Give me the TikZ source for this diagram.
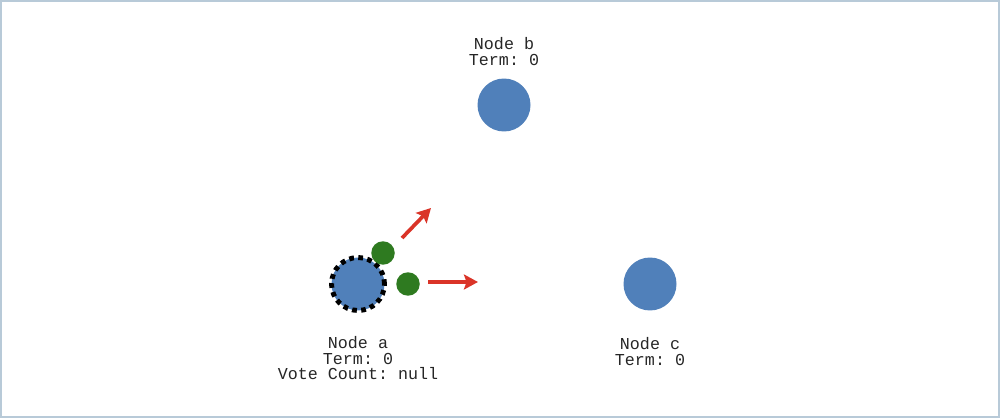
\documentclass[tikz,border=0pt]{standalone}
\usepackage{fontspec}
\setmonofont{Liberation Mono}
\usetikzlibrary{arrows.meta, positioning}

\definecolor{serverblue}{RGB}{80,128,186}
\definecolor{votegreen}{RGB}{46,122,32}
\definecolor{msgred}{RGB}{218,52,40}
\definecolor{frameblue}{RGB}{184,202,216}

\begin{document}
\begin{tikzpicture}[
    x=0.02cm,
    y=-0.02cm,
    >={Stealth[length=8pt, width=8.5pt, inset=1.5pt]},
    server/.style={circle, fill=serverblue, minimum size=1.06cm, inner sep=0pt},
    candidate/.style={server, draw=black, line width=2.8pt, dash pattern=on 2.7pt off 2.5pt},
    vote/.style={circle, fill=votegreen, minimum size=0.47cm, inner sep=0pt},
    msg/.style={->, draw=msgred, line width=2.1pt},
    info/.style={align=center, inner sep=0pt, text=black!85, font=\ttfamily\fontsize{9.5}{9}\selectfont}]
]
    \useasboundingbox (0,0) rectangle (1000,418);
    \draw[frameblue, line width=1.2pt] (0.6,0.6) rectangle (999.4,417.4);

    \node[candidate, label={[info, label distance=13pt]below:Node a\\Term: 0\\Vote Count: null}] (A) at (358,284) {};
    \node[server, label={[info, label distance=7pt]above:Node b\\Term: 0}]  (B) at (504,105) {};
    \node[server, label={[info, label distance=15pt]below:Node c\\Term: 0}] (C) at (650,284) {};

    \node[vote] (VoteB) at (383,253) {};
    \node[vote] (VoteC) at (408,284) {};

    \coordinate (ToB0) at (402,238);
    \coordinate (ToB1) at (431,208);
    \coordinate (ToC0) at (428,282);
    \coordinate (ToC1) at (478,282);

    \draw[msg] (ToB0) -- (ToB1);
    \draw[msg] (ToC0) -- (ToC1);
\end{tikzpicture}
\end{document}
